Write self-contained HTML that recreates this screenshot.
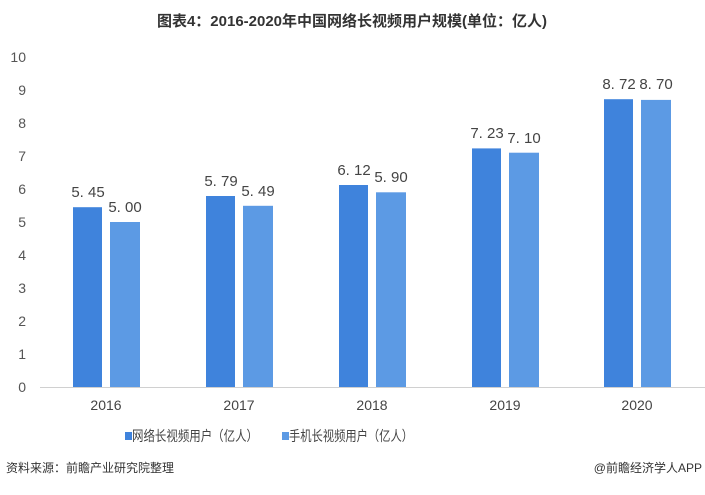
<!DOCTYPE html>
<html><head><meta charset="utf-8"><style>
body{margin:0;background:#fff;}
svg text{font-family:"Liberation Sans","Noto Sans CJK SC",sans-serif;}
</style></head><body>
<svg width="705" height="490" xmlns="http://www.w3.org/2000/svg">
<rect width="705" height="490" fill="#fff"/>
<text x="352" y="26" text-anchor="middle" font-size="15" font-weight="bold" fill="#333">图表4：2016-2020年中国网络长视频用户规模(单位：亿人)</text>
<g font-size="14" fill="#555" text-anchor="end">
<text x="26" y="392">0</text><text x="26" y="359">1</text><text x="26" y="326">2</text><text x="26" y="293">3</text><text x="26" y="260">4</text><text x="26" y="227">5</text><text x="26" y="194">6</text><text x="26" y="161">7</text><text x="26" y="128">8</text><text x="26" y="95">9</text><text x="26" y="62">10</text>
</g>
<line x1="40" y1="387.5" x2="705" y2="387.5" stroke="#d0d0d0"/>
<g fill="#3f83dc">
<rect x="73" y="207.2" width="29" height="179.8"/>
<rect x="206" y="196.0" width="29" height="191"/>
<rect x="339" y="185.0" width="29" height="202"/>
<rect x="472" y="148.4" width="29" height="238.6"/>
<rect x="604" y="99.2" width="29" height="287.8"/>
</g>
<g fill="#5c9ae4">
<rect x="110" y="222" width="30" height="165"/>
<rect x="243" y="205.8" width="30" height="181.2"/>
<rect x="376" y="192.3" width="30" height="194.7"/>
<rect x="509" y="152.7" width="30" height="234.3"/>
<rect x="641" y="99.9" width="30" height="287.1"/>
</g>
<g font-size="15" fill="#444" text-anchor="middle">
<text x="88" y="197">5. 45</text><text x="125" y="212">5. 00</text>
<text x="221" y="186">5. 79</text><text x="258" y="196">5. 49</text>
<text x="354" y="175">6. 12</text><text x="391" y="182">5. 90</text>
<text x="487" y="138">7. 23</text><text x="524" y="143">7. 10</text>
<text x="619" y="89">8. 72</text><text x="656" y="89">8. 70</text>
</g>
<g font-size="14" fill="#444" text-anchor="middle">
<text x="106" y="410">2016</text><text x="239" y="410">2017</text><text x="372" y="410">2018</text><text x="505" y="410">2019</text><text x="637" y="410">2020</text>
</g>
<rect x="125" y="432" width="7" height="8" fill="#3f83dc"/>
<text x="132" y="441" font-size="14" fill="#444" textLength="126" lengthAdjust="spacingAndGlyphs">网络长视频用户（亿人）</text>
<rect x="282" y="432" width="7" height="8" fill="#5c9ae4"/>
<text x="289" y="441" font-size="14" fill="#444" textLength="124" lengthAdjust="spacingAndGlyphs">手机长视频用户（亿人）</text>
<text x="6" y="472" font-size="12" fill="#333">资料来源：前瞻产业研究院整理</text>
<text x="702" y="472" font-size="12" fill="#333" text-anchor="end">@前瞻经济学人APP</text>
</svg>
</body></html>
